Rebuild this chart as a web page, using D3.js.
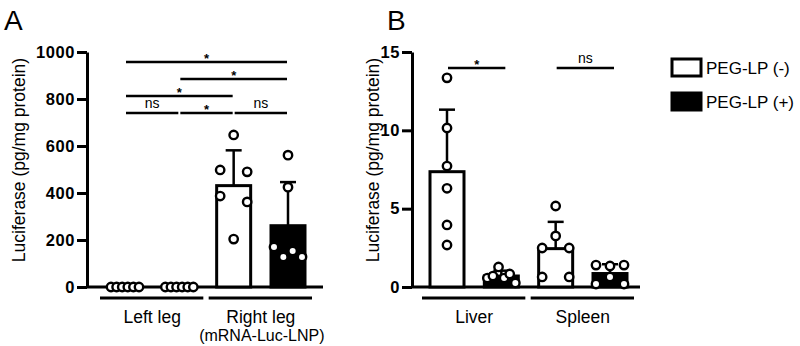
<!DOCTYPE html>
<html>
<head>
<meta charset="utf-8">
<script src="https://cdn.jsdelivr.net/npm/d3@7"></script>
<style>
body { margin: 0; background: #fff; }
svg { display: block; font-family: "Liberation Sans", Arial, sans-serif; }
</style>
</head>
<body>
<svg class="chart"></svg>
<script>
// ---- data ----
const treatments = ['PEG-LP (-)', 'PEG-LP (+)'];

const legGroups = ['Left leg', 'Right leg'];
const legSubLabels = ['', '(mRNA-Luc-LNP)'];
const legTicks = [0, 200, 400, 600, 800, 1000];
const legLeftNeg = [0, 0, 0, 0, 0, 0];
const legLeftPos = [0, 0, 0, 0, 0, 0];
const legRightNeg = [647, 498, 490, 387, 362, 204];
const legRightPos = [561, 425, 170, 128, 153, 128];
const legSigPairs = [[0, 1], [1, 2], [2, 3], [0, 2], [1, 3], [0, 3]];
const legSigLabels = ['ns', '*', 'ns', '*', '*', '*'];
const legSigLevels = [0, 0, 0, 1, 2, 3];

const organGroups = ['Liver', 'Spleen'];
const organSubLabels = ['', ''];
const organTicks = [0, 5, 10, 15];
const liverNeg = [13.35, 10.15, 7.72, 6.3, 3.96, 2.68];
const liverPos = [0.57, 0.7, 1.28, 0.57, 0.83, 0.26];
const spleenNeg = [5.17, 3.26, 2.49, 2.49, 0.64, 0.64];
const spleenPos = [1.4, 1.34, 1.4, 0.19, 0.64, 0.19];
const organSigPairs = [[0, 1], [2, 3]];
const organSigLabels = ['*', 'ns'];
const organSigLevels = [0, 0];

const svg = d3.select('.chart').attr('width', 800).attr('height', 346);

const yTop = 52, yBottom = 287;
const barW = 34;

// spread points that sit at about the same height (GraphPad-like scatter)
function swarm(vals, y) {
  const idx = d3.range(vals.length).sort((a, b) => vals[a] - vals[b]);
  const rows = [];
  let cur = [idx[0]];
  for (let k = 1; k < idx.length; k++) {
    if (Math.abs(y(vals[idx[k]]) - y(vals[idx[k - 1]])) < 9) cur.push(idx[k]);
    else { rows.push(cur); cur = [idx[k]]; }
  }
  rows.push(cur);
  const off = vals.map(() => 0);
  rows.forEach(r => {
    r.sort((a, b) => a - b);
    const n = r.length;
    if (n < 2) return;
    const s = Math.min(27, 28 / (n - 1));
    r.forEach((i, j) => off[i] = (j - (n - 1) / 2) * s);
  });
  return off;
}

function panel(o) {
  const g = svg.append('g');
  const y = d3.scaleLinear().domain([0, o.max]).range([yBottom, yTop]);
  const x = d3.scalePoint().domain(d3.range(o.series.length)).range(o.xRange);

  // panel letter
  g.append('text').attr('x', o.letterX).attr('y', 30)
    .attr('font-size', 28).text(o.letter);

  // y axis title
  g.append('text')
    .attr('transform', `translate(${o.titleX},160) rotate(-90)`)
    .attr('text-anchor', 'middle').attr('font-size', 17.5)
    .text('Luciferase (pg/mg protein)');

  // x axis line
  g.append('line')
    .attr('x1', o.axisX).attr('x2', o.xEnd)
    .attr('y1', y(0)).attr('y2', y(0))
    .attr('stroke', '#000').attr('stroke-width', 3);

  const ya = g.append('g')
    .attr('transform', `translate(${o.axisX},0)`)
    .call(d3.axisLeft(y).tickValues(o.ticks).tickFormat(d3.format('d'))
      .tickSize(10).tickSizeOuter(0).tickPadding(2));
  ya.attr('font-family', null);
  ya.select('.domain').attr('stroke-width', 3);
  ya.selectAll('.tick line').attr('stroke-width', 3);
  ya.selectAll('.tick text').attr('font-size', 16.5).attr('font-weight', 'bold')
    .attr('letter-spacing', 0.6).attr('fill', '#000');

  // bars + error bars
  o.series.forEach((vals, i) => {
    const m = d3.mean(vals);
    const sd = d3.deviation(vals) || 0;
    const cx = x(i);
    g.append('line')
      .attr('x1', cx).attr('x2', cx).attr('y1', y(m)).attr('y2', y(m + sd))
      .attr('stroke', '#000').attr('stroke-width', 2.5);
    g.append('line')
      .attr('x1', cx - 8).attr('x2', cx + 8).attr('y1', y(m + sd)).attr('y2', y(m + sd))
      .attr('stroke', '#000').attr('stroke-width', 2.5);
    g.append('rect')
      .attr('x', cx - barW / 2).attr('y', y(m))
      .attr('width', barW).attr('height', y(0) - y(m))
      .attr('fill', i % 2 ? '#000' : '#fff')
      .attr('stroke', '#000').attr('stroke-width', 3);
  });

  // points
  o.series.forEach((vals, i) => {
    const off = swarm(vals, y);
    g.selectAll(null).data(vals).join('circle')
      .attr('cx', (d, k) => x(i) + off[k])
      .attr('cy', d => y(d))
      .attr('r', 4.2)
      .attr('fill', '#fff').attr('stroke', '#000').attr('stroke-width', 2.4);
  });

  // group lines and labels
  o.groups.forEach((name, k) => {
    const a = x(2 * k), b = x(2 * k + 1);
    g.append('line')
      .attr('x1', a - 25).attr('x2', b + 24).attr('y1', 298).attr('y2', 298)
      .attr('stroke', '#000').attr('stroke-width', 3);
    g.append('text').attr('x', (a + b) / 2).attr('y', 323)
      .attr('text-anchor', 'middle').attr('font-size', 17.5).text(name);
    if (o.subLabels[k]) {
      g.append('text').attr('x', (a + b) / 2 + 1).attr('y', 341)
        .attr('text-anchor', 'middle').attr('font-size', 16).text(o.subLabels[k]);
    }
  });

  // significance lines
  o.sigPairs.forEach((p, j) => {
    const ly = o.sigY - 17 * o.sigLevels[j];
    const x1 = x(p[0]) + 1, x2 = x(p[1]) + o.sigPad;
    g.append('line')
      .attr('x1', x1).attr('x2', x2).attr('y1', ly).attr('y2', ly)
      .attr('stroke', '#000').attr('stroke-width', 2.5);
    const star = o.sigLabels[j] === '*';
    g.append('text').attr('x', (x1 + x2) / 2).attr('y', star ? ly + 1 : ly - 5)
      .attr('text-anchor', 'middle')
      .attr('font-size', star ? 13 : 14)
      .attr('font-weight', star ? 'bold' : 'normal')
      .text(o.sigLabels[j]);
  });
}

panel({
  letter: 'A', letterX: 4, titleX: 25,
  max: 1000, ticks: legTicks, axisX: 87, xRange: [125, 288], xEnd: 323,
  series: [legLeftNeg, legLeftPos, legRightNeg, legRightPos],
  groups: legGroups, subLabels: legSubLabels,
  sigPairs: legSigPairs, sigLabels: legSigLabels, sigLevels: legSigLevels,
  sigY: 113, sigPad: -1
});

panel({
  letter: 'B', letterX: 387, titleX: 379,
  max: 15, ticks: organTicks, axisX: 412, xRange: [447, 610], xEnd: 640,
  series: [liverNeg, liverPos, spleenNeg, spleenPos],
  groups: organGroups, subLabels: organSubLabels,
  sigPairs: organSigPairs, sigLabels: organSigLabels, sigLevels: organSigLevels,
  sigY: 68, sigPad: 4
});

// legend
const legend = svg.append('g');
treatments.forEach((t, i) => {
  legend.append('rect')
    .attr('x', 672).attr('y', 59 + 34 * i).attr('width', 29).attr('height', 17)
    .attr('fill', i ? '#000' : '#fff').attr('stroke', '#000').attr('stroke-width', 3);
  legend.append('text').attr('x', 706).attr('y', 74 + 34 * i)
    .attr('font-size', 17).text(t);
});
</script>
</body>
</html>
